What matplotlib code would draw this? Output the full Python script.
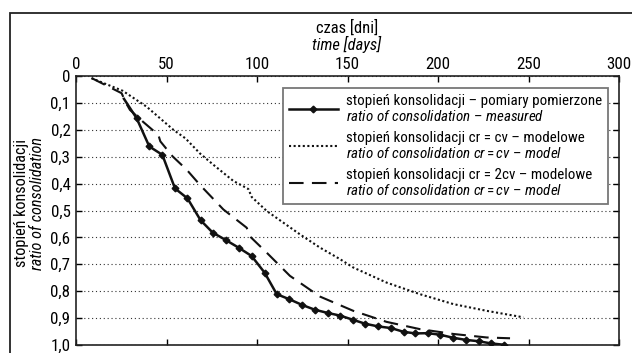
import matplotlib
matplotlib.use("Agg")
import matplotlib.pyplot as plt
from matplotlib import font_manager
from matplotlib.patches import Rectangle

# ---- data ----
meas_x = [26.5, 33.5, 40.5, 47.7, 54.7, 61.6, 68.8, 75.5, 82.8, 89.8, 97.0, 104.2,
          110.9, 117.9, 124.9, 132.0, 139.2, 146.1, 152.9, 159.8, 167.0, 174.0,
          181.0, 187.5, 194.4, 201.3, 208.3, 215.4, 222.4, 229.2, 236.3]
meas_y = [0.085, 0.157, 0.262, 0.293, 0.418, 0.455, 0.536, 0.582, 0.610, 0.638,
          0.669, 0.731, 0.811, 0.830, 0.851, 0.869, 0.881, 0.891, 0.906, 0.921,
          0.931, 0.937, 0.951, 0.957, 0.956, 0.962, 0.973, 0.981, 0.986, 0.994, 0.999]

cv_x = [8.5, 25.8, 39.0, 53.8, 60.5, 68.5, 75.9, 86.9, 95.2, 97.1, 105.4, 123.8,
        134.8, 145.9, 153.2, 171.6, 190.0, 208.5, 226.9, 247.1]
cv_y = [0.008, 0.055, 0.114, 0.200, 0.232, 0.288, 0.330, 0.390, 0.420, 0.450, 0.502,
        0.589, 0.638, 0.681, 0.712, 0.768, 0.811, 0.848, 0.873, 0.897]

cv2_x = [8.7, 25.2, 27.6, 29.8, 37.0, 45.5, 46.6, 53.4, 61.1, 68.5, 81.4, 94.3,
         96.2, 105.4, 118.2, 134.8, 153.2, 171.6, 190.0, 208.5, 226.9, 239.8]
cv2_y = [0.008, 0.064, 0.100, 0.126, 0.170, 0.219, 0.243, 0.299, 0.348, 0.405, 0.496,
         0.564, 0.597, 0.657, 0.743, 0.820, 0.873, 0.914, 0.941, 0.959, 0.972, 0.975]

x_ticks = [0, 50, 100, 150, 200, 250, 300]
y_ticks = [0, 0.1, 0.2, 0.3, 0.4, 0.5, 0.6, 0.7, 0.8, 0.9, 1.0]
y_tick_labels = ["0", "0,1", "0,2", "0,3", "0,4", "0,5", "0,6", "0,7", "0,8", "0,9", "1,0"]

lab_meas = ("stopień konsolidacji – pomiary pomierzone\n"
            r"$\mathit{ratio\ of\ consolidation\ –\ measured}$")
lab_cv = ("stopień konsolidacji cr = cv – modelowe\n"
          r"$\mathit{ratio\ of\ consolidation\ cr=cv\ –\ model}$")
lab_cv2 = ("stopień konsolidacji cr = 2cv – modelowe\n"
           r"$\mathit{ratio\ of\ consolidation\ cr=cv\ –\ model}$")

# ---- fonts ----
names = {f.name for f in font_manager.fontManager.ttflist}
fam = None
for cand in ["Liberation Sans Narrow", "Roboto Condensed", "Open Sans Condensed", "Liberation Sans"]:
    if cand in names:
        fam = cand
        break
if fam is None:
    fam = "DejaVu Sans"
narrow = fam != "Liberation Sans" and fam != "DejaVu Sans"
fs = 10.8 if narrow else 9.0
tfs = 12.2 if narrow else 10.0
plt.rcParams['font.family'] = [fam, 'DejaVu Sans']
plt.rcParams['mathtext.fontset'] = 'custom'
plt.rcParams['mathtext.it'] = fam + ':italic'
plt.rcParams['mathtext.rm'] = fam
plt.rcParams['mathtext.sf'] = fam

W, H = 632, 353
fig = plt.figure(figsize=(W / 100, H / 100), dpi=100)
fig.patch.set_facecolor('white')

# outer frame (partially out of picture)
fig.patches.append(Rectangle((10 / W, -0.2), 1.2, 1 - 13 / H + 0.2,
                             transform=fig.transFigure, fill=False,
                             edgecolor='#222222', linewidth=1.3))

ax = fig.add_axes([76 / W, (H - 345) / H, 543 / W, 269 / H])
ax.set_xlim(0, 300)
ax.set_ylim(1.0, 0.0)

ax.plot(meas_x, meas_y, color='#111111', lw=1.8, marker='D', ms=3.4,
        markevery=list(range(1, len(meas_x))), label=lab_meas, zorder=4)
ax.plot(cv_x, cv_y, color='#111111', lw=1.5, linestyle=(0, (1, 1.2)), label=lab_cv, zorder=3)
ax.plot(cv2_x, cv2_y, color='#111111', lw=1.5, linestyle=(0, (7, 4)), label=lab_cv2, zorder=3)

ax.set_xticks(x_ticks)
ax.set_yticks(y_ticks)
ax.set_yticklabels(y_tick_labels)
ax.xaxis.tick_top()
ax.tick_params(axis='x', which='both', top=True, bottom=True, labeltop=True,
               labelbottom=False, direction='in', length=4, width=1, pad=3,
               labelsize=tfs)
ax.tick_params(axis='y', which='both', left=True, right=True, direction='in',
               length=4, width=1, pad=4, labelsize=tfs)
ax.grid(axis='y', linestyle=(0, (1, 2.5)), color='#333333', linewidth=0.8)
for s in ax.spines.values():
    s.set_linewidth(1.2)
    s.set_color('#222222')

# axis titles
fig.text(347 / W, 1 - 28 / H, "czas [dni]", ha='center', va='center', fontsize=tfs - 0.3)
fig.text(347 / W, 1 - 44 / H, "time [days]", ha='center', va='center',
         fontsize=tfs - 0.3, style='italic')
fig.text(22 / W, 1 - 203 / H, "stopień konsolidacji", ha='center', va='center',
         rotation=90, fontsize=tfs - 0.5)
fig.text(38 / W, 1 - 203 / H, "ratio of consolidation", ha='center', va='center',
         rotation=90, fontsize=tfs - 0.5, style='italic')

leg = ax.legend(loc='upper right', bbox_to_anchor=((608 - 76) / 543, (345 - 88) / 269),
                borderaxespad=0, fancybox=False, framealpha=1, edgecolor='#777777',
                fontsize=fs, handlelength=3.27, handletextpad=0.53, labelspacing=0.45,
                borderpad=0.4)
leg.get_frame().set_linewidth(1.3)
for t in leg.get_texts():
    t.set_linespacing(1.1)

fig.savefig("out.png", dpi=100, facecolor='white')
